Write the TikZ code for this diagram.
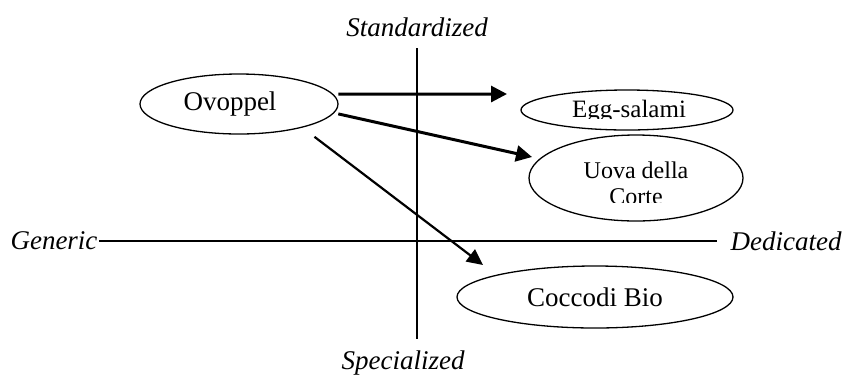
\documentclass[tikz,border=0pt]{standalone}
\usepackage{fontspec}
\setmainfont{Liberation Serif}
\usetikzlibrary{shapes.geometric,arrows.meta}

\tikzset{
  oval/.style={ellipse,draw,line width=1.3pt,inner sep=0pt},
  axis/.style={line width=2.2pt},
  pointer/.style={-{Triangle[length=16pt,width=16pt]},line width=3pt},
  thinpointer/.style={-{Triangle[length=16pt,width=15pt]},line width=2.2pt},
  axislabel/.style={font=\fontsize{27}{29}\selectfont\itshape}
}

\begin{document}
\begin{tikzpicture}[x=1pt,y=-1pt,font=\fontsize{27}{26}\selectfont]
    \useasboundingbox (0,0) rectangle (842,376);

    % Axes
    \coordinate (top) at (417,48);
    \coordinate (bottom) at (417,339);
    \coordinate (left) at (99,241);
    \coordinate (right) at (717,241);
    \draw [axis] (top) -- (bottom);
    \draw [axis] (left) -- (right);
    \node [axislabel] (standardized) at (417,27) {Standardized};
    \node [axislabel] (specialized) at (403,363) {Specialized};
    \node [axislabel] (generic) at (54,241) {Generic};
    \node [axislabel] (dedicated) at (786,241) {Dedicated};

    % Products
    \node [oval,minimum width=198pt,minimum height=60pt] (ovoppel) at (239,104) {Ovoppel\hspace*{18pt}};
    \node [oval,minimum width=212pt,minimum height=40pt] (egg) at (627,110) {};
    \node [oval,minimum width=214pt,minimum height=86pt] (uova) at (636,178) {};
    \node [oval,minimum width=276pt,minimum height=62pt] (coccodi) at (595,297) {Coccodi Bio};

    % Texts cut off by their boxes
    \begin{scope}
      \clip (525,92) rectangle (730,118);
      \node [anchor=base,font=\fontsize{25}{26}\selectfont] (eggtext) at (629,117) {Egg-salami};
    \end{scope}
    \begin{scope}
      \clip (530,130) rectangle (742,202);
      \node [align=center,font=\fontsize{24}{26}\selectfont] (uovatext) at (636,183) {Uova della\\Corte};
    \end{scope}

    % Moves
    \coordinate (eggtip) at (507,94);
    \coordinate (uovatip) at (532,157);
    \coordinate (cocctip) at (483,265);
    \draw [pointer] ([xshift=5pt]ovoppel.6) -- (eggtip);
    \draw [pointer] ([xshift=5pt]ovoppel.-6) -- (uovatip);
    \draw [thinpointer] ([xshift=17pt,yshift=-8pt]ovoppel.-23) -- (cocctip);
\end{tikzpicture}
\end{document}
